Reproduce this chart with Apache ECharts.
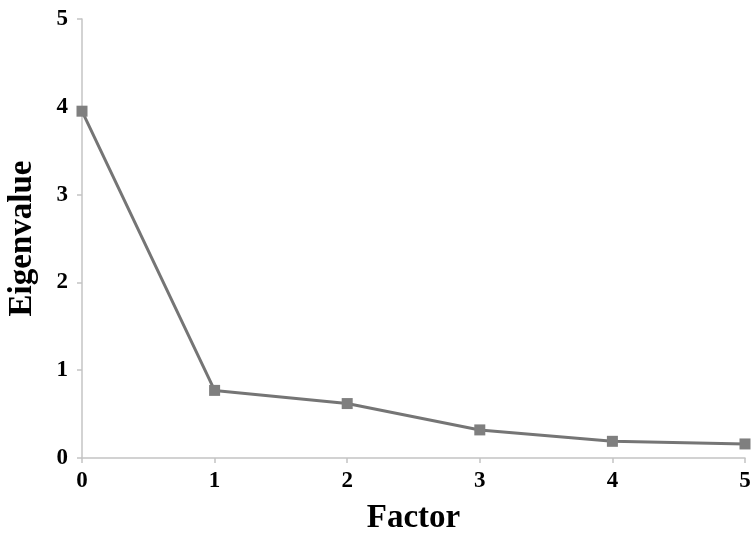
<!DOCTYPE html>
<html><head><meta charset="utf-8">
<script src="https://cdn.jsdelivr.net/npm/echarts@6/dist/echarts.min.js"></script>
<style>html,body{margin:0;padding:0;background:#fff}#c{width:756px;height:538px}</style>
</head><body><div id="c"></div>
<script>
const factors = [0, 1, 2, 3, 4, 5];
const eigenvalues = [3.95, 0.77, 0.62, 0.32, 0.19, 0.16];
const xTitle = 'Factor';
const yTitle = 'Eigenvalue';

const chart = echarts.init(document.getElementById('c'));
const font = '"Liberation Serif","Times New Roman",serif';
chart.setOption({
  animation: false,
  backgroundColor: '#fff',
  grid: {left: 82, right: 11, top: 19, bottom: 80, containLabel: false, outerBoundsMode: 'none'},
  xAxis: {
    type: 'value', min: 0, max: 5, interval: 1,
    name: xTitle, nameLocation: 'middle', nameGap: 44,
    nameTextStyle: {fontFamily: font, fontWeight: 'bold', fontSize: 33, color: '#000'},
    axisLine: {show: true, lineStyle: {color: '#c4c4c4', width: 1.5}},
    axisTick: {show: true, length: 5, lineStyle: {color: '#c4c4c4', width: 1.5}},
    axisLabel: {fontFamily: font, fontWeight: 'bold', fontSize: 23, color: '#000', margin: 12},
    splitLine: {show: false}
  },
  yAxis: {
    type: 'value', min: 0, max: 5, interval: 1,
    name: yTitle, nameLocation: 'middle', nameGap: 43,
    nameTextStyle: {fontFamily: font, fontWeight: 'bold', fontSize: 33, color: '#000'},
    axisLine: {show: true, lineStyle: {color: '#c4c4c4', width: 1.5}},
    axisTick: {show: true, length: 5, lineStyle: {color: '#c4c4c4', width: 1.5}},
    axisLabel: {fontFamily: font, fontWeight: 'bold', fontSize: 23, color: '#000', margin: 14},
    splitLine: {show: false}
  },
  series: [{
    type: 'line',
    data: factors.map((f, i) => [f, eigenvalues[i]]),
    symbol: 'rect', symbolSize: 11,
    lineStyle: {color: '#757575', width: 3},
    itemStyle: {color: '#7f7f7f'},
    clip: false
  }]
});
</script></body></html>
